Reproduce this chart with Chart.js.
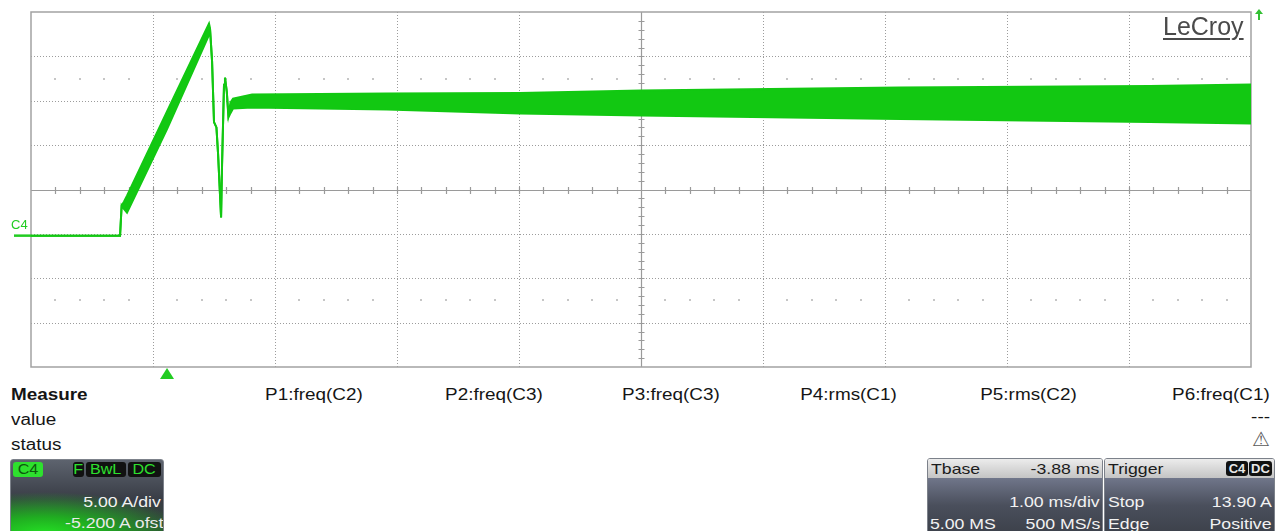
<!DOCTYPE html>
<html lang="en">
<head>
    <meta charset="UTF-8">
    <title>LeCroy C4 capture</title>
    <style>
        body {
            margin: 0;
            background: #fff;
            font-family: "Liberation Sans", Arial, sans-serif;
        }
        #screen {
            position: relative;
            width: 1275px;
            height: 531px;
            overflow: hidden;
            background: #fff;
        }
        #chartContainer {
            position: absolute;
            left: 0;
            top: 0;
            width: 1275px;
            height: 380px;
        }
        .tx {
            position: absolute;
            white-space: nowrap;
            font-size: 16px;
            line-height: 16px;
            color: #151515;
            transform: scaleX(1.18);
            transform-origin: left top;
        }
        .tx.r { transform-origin: right top; }
        .logo {
            position: absolute;
            left: 1163px;
            top: 12px;
            font-size: 25px;
            line-height: 28px;
            color: #4a4a4a;
            text-decoration: underline;
            text-decoration-thickness: 2px;
            text-underline-offset: 3px;
        }
        .panel {
            position: absolute;
            border: 1px solid #7c818a;
            border-radius: 3px;
            overflow: hidden;
        }
        .panel .tx { color: #f2f2f2; font-size: 15px; }
        #c4box {
            left: 10px; top: 459px; width: 152px; height: 80px;
            background:
                radial-gradient(ellipse 140px 42px at 22% 74px, rgba(36,225,36,1) 0%, rgba(30,185,30,0.9) 40%, rgba(24,120,24,0) 100%),
                linear-gradient(#5d636e, #383c45 50%, #2c4a30);
        }
        .badge {
            position: absolute;
            top: 2px;
            height: 15px;
            border-radius: 3px;
            font-size: 14px;
            line-height: 15px;
            text-align: center;
        }
        .badge span { display: inline-block; transform: scaleX(1.15); }
        .head {
            position: absolute;
            left: 0; right: 0; top: 0; height: 19px;
            background: linear-gradient(#ececec, #c4c4c4);
        }
        .panel .head .tx { color: #1c1c1c; }
        .head .badge { font-size: 13px; font-weight: bold; }
        .head .badge span { transform: none; }
        .body {
            position: absolute;
            left: 0; right: 0; top: 19px; bottom: 0;
            background: linear-gradient(#70768a, #4a4f5c 45%, #3a3e47);
        }
        #tbase { left: 927px; top: 458px; width: 174px; height: 80px; }
        #trig { left: 1104px; top: 458px; width: 169px; height: 80px; }
    </style>
    <script src="https://cdn.jsdelivr.net/npm/chart.js"></script>
</head>
<body>
<div id="screen">
    <div id="chartContainer">
        <canvas id="scopeChart"></canvas>
    </div>
    <div class="logo">LeCroy</div>

    <div class="tx" style="left:11px;top:387px;font-weight:bold;">Measure</div>
    <div class="tx" style="left:11px;top:412px;">value</div>
    <div class="tx" style="left:11px;top:437px;">status</div>

    <div class="tx r" style="right:912px;top:387px;">P1:freq(C2)</div>
    <div class="tx r" style="right:732px;top:387px;">P2:freq(C3)</div>
    <div class="tx r" style="right:555px;top:387px;">P3:freq(C3)</div>
    <div class="tx r" style="right:378px;top:387px;">P4:rms(C1)</div>
    <div class="tx r" style="right:198px;top:387px;">P5:rms(C2)</div>
    <div class="tx r" style="right:5px;top:387px;">P6:freq(C1)</div>
    <div class="tx r" style="right:5px;top:409px;">---</div>
    <div class="tx r" style="right:5px;top:429px;color:#5a5a5a;font-family:'DejaVu Sans';font-size:20px;line-height:20px;transform:none;">⚠</div>

    <div class="panel" id="c4box">
        <div class="badge" style="left:2px;width:30px;background:#2ee02e;color:#0d5a0d;"><span>C4</span></div>
        <div class="badge" style="left:62px;width:11px;background:#111;color:#2ee02e;"><span>F</span></div>
        <div class="badge" style="left:75px;width:40px;background:#111;color:#2ee02e;"><span>BwL</span></div>
        <div class="badge" style="left:117px;width:33px;background:#111;color:#2ee02e;"><span>DC</span></div>
        <div class="tx r" style="right:2px;top:34px;">5.00 A/div</div>
        <div class="tx r" style="right:0px;top:55px;color:#eaeaea;">-5.200 A ofst</div>
    </div>

    <div class="panel" id="tbase">
        <div class="head">
            <div class="tx" style="left:3px;top:2px;">Tbase</div>
            <div class="tx r" style="right:3px;top:2px;">-3.88 ms</div>
        </div>
        <div class="body">
            <div class="tx r" style="right:2px;top:16px;">1.00 ms/div</div>
            <div class="tx" style="left:2px;top:38px;">5.00 MS</div>
            <div class="tx r" style="right:2px;top:38px;">500 MS/s</div>
        </div>
    </div>

    <div class="panel" id="trig">
        <div class="head">
            <div class="tx" style="left:3px;top:2px;">Trigger</div>
            <div class="badge" style="left:121px;width:22px;background:#111;color:#e8e8e8;"><span>C4</span></div>
            <div class="badge" style="left:144px;width:23px;background:#111;color:#e8e8e8;"><span>DC</span></div>
        </div>
        <div class="body">
            <div class="tx" style="left:3px;top:16px;">Stop</div>
            <div class="tx r" style="right:2px;top:16px;">13.90 A</div>
            <div class="tx" style="left:3px;top:38px;">Edge</div>
            <div class="tx r" style="right:2px;top:38px;">Positive</div>
        </div>
    </div>
</div>
<script>
    // C4 current trace (time in ms from trigger, current in A)
    // the trace is drawn as its max / min envelope, the ripple band is filled between them
    const timeMs = [-1.115, -0.385, -0.372, -0.352, -0.328, 0.0, 0.344, 0.352, 0.369, 0.385,
                    0.405, 0.418, 0.443, 0.451, 0.467, 0.475, 0.49, 0.503, 0.52, 0.541,
                    0.697, 1.803, 2.893, 3.885, 6.008, 8.057, 8.885];
    const upperA = [0, 0, 3.4, 3.85, 4.5, 14.0, 23.9, 23.4, 19.7, 12.8,
                    12.2, 9.3, 2.05, 8.0, 17.0, 17.8, 16.2, 13.6, 15.0, 15.45,
                    15.9, 16.01, 16.07, 16.35, 16.69, 16.85, 17.02];
    const lowerA = [0, 0, 3.4, 3.0, 2.6, 12.0, 22.6, 23.4, 19.7, 12.8,
                    12.2, 9.3, 2.05, 8.0, 17.0, 17.8, 16.2, 13.3, 13.8, 14.32,
                    14.43, 14.21, 13.76, 13.53, 13.14, 12.8, 12.63];

    // screen divisions: 1.00 ms/div, 5.00 A/div, -5.200 A offset, trigger 3.88 ms left of centre
    const gridTimeMs = [-1.115, -0.115, 0.885, 1.885, 2.885, 3.885, 4.885, 5.885, 6.885, 7.885, 8.885];
    const gridAmps = [-14.8, -9.8, -4.8, 0.2, 5.2, 10.2, 15.2, 20.2, 25.2];
    const centreTime = 3.885;
    const centreAmps = 5.2;
    const triggerTime = 0;
    const groundAmps = 0;

    const traceGreen = 'rgb(18,200,18)';

    const scopeGrid = {
        id: 'scopeGrid',
        beforeDatasetsDraw(chart) {
            const { ctx, chartArea: a, scales: { x, y } } = chart;
            ctx.save();
            // dotted division lines
            ctx.lineWidth = 1;
            ctx.strokeStyle = '#9c9c9c';
            ctx.setLineDash([1, 2]);
            gridTimeMs.slice(1, -1).forEach(v => {
                if (v === centreTime) return;
                const px = Math.round(x.getPixelForValue(v)) + 0.5;
                ctx.beginPath(); ctx.moveTo(px, a.top); ctx.lineTo(px, a.bottom); ctx.stroke();
            });
            gridAmps.slice(1, -1).forEach(v => {
                if (v === centreAmps) return;
                const py = Math.round(y.getPixelForValue(v)) + 0.5;
                ctx.beginPath(); ctx.moveTo(a.left, py); ctx.lineTo(a.right, py); ctx.stroke();
            });
            ctx.setLineDash([]);

            // faint dot rows half way into the 3rd division above and below centre
            ctx.fillStyle = '#c6c6c6';
            [centreAmps + 12.5, centreAmps - 12.5].forEach(v => {
                const py = Math.round(y.getPixelForValue(v));
                for (let k = 1; k < 50; k++) {
                    if (k % 5 === 0) continue;
                    const px = Math.round(a.left + k * a.width / 50);
                    ctx.fillRect(px - 1, py - 1, 2, 2);
                }
            });

            // solid centre cross with minor ticks
            const cx = Math.round(x.getPixelForValue(centreTime)) + 0.5;
            const cy = Math.round(y.getPixelForValue(centreAmps)) + 0.5;
            ctx.strokeStyle = '#9a9a9a';
            ctx.lineWidth = 1.2;
            ctx.beginPath();
            ctx.moveTo(a.left, cy); ctx.lineTo(a.right, cy);
            ctx.moveTo(cx, a.top); ctx.lineTo(cx, a.bottom);
            for (let k = 1; k < 50; k++) {
                const px = Math.round(a.left + k * a.width / 50) + 0.5;
                ctx.moveTo(px, cy - 3.5); ctx.lineTo(px, cy + 3.5);
            }
            for (let k = 1; k < 40; k++) {
                const py = Math.round(a.top + k * a.height / 40) + 0.5;
                ctx.moveTo(cx - 3, py); ctx.lineTo(cx + 3, py);
            }
            ctx.stroke();

            // frame
            ctx.strokeStyle = '#a2a2a2';
            ctx.lineWidth = 1.5;
            ctx.strokeRect(a.left, a.top, a.width, a.height);
            ctx.restore();
        },
        afterDraw(chart) {
            const { ctx, chartArea: a, scales: { x, y } } = chart;
            ctx.save();
            ctx.fillStyle = '#22cc22';
            ctx.strokeStyle = '#22cc22';

            // trigger position marker below the grid
            const tx = x.getPixelForValue(triggerTime);
            ctx.beginPath();
            ctx.moveTo(tx - 7, a.bottom + 12);
            ctx.lineTo(tx + 7, a.bottom + 12);
            ctx.lineTo(tx, a.bottom + 1);
            ctx.closePath();
            ctx.fill();

            // channel ground marker
            const gy = y.getPixelForValue(groundAmps);
            ctx.lineWidth = 2.5;
            ctx.beginPath(); ctx.moveTo(14, gy); ctx.lineTo(a.left, gy); ctx.stroke();
            ctx.font = '13px "Liberation Sans", Arial';
            ctx.fillText('C4', 11, gy - 7);

            // off-screen arrow top right
            ctx.fillStyle = '#33c033';
            ctx.strokeStyle = '#33c033';
            ctx.lineWidth = 2;
            ctx.beginPath(); ctx.moveTo(a.right + 8, a.top + 8); ctx.lineTo(a.right + 8, a.top + 1); ctx.stroke();
            ctx.beginPath();
            ctx.moveTo(a.right + 4, a.top + 2);
            ctx.lineTo(a.right + 12, a.top + 2);
            ctx.lineTo(a.right + 8, a.top - 3);
            ctx.closePath();
            ctx.fill();
            ctx.restore();
        }
    };

    const ctx = document.getElementById('scopeChart').getContext('2d');

    const chart = new Chart(ctx, {
        type: 'line',
        data: {
            datasets: [
                {
                    label: 'C4 max',
                    data: timeMs.map((t, i) => ({ x: t, y: upperA[i] })),
                    borderColor: traceGreen,
                    backgroundColor: traceGreen,
                    borderWidth: 2,
                    pointRadius: 0,
                    tension: 0,
                    fill: '+1'
                },
                {
                    label: 'C4 min',
                    data: timeMs.map((t, i) => ({ x: t, y: lowerA[i] })),
                    borderColor: traceGreen,
                    backgroundColor: traceGreen,
                    borderWidth: 2,
                    pointRadius: 0,
                    tension: 0,
                    fill: false
                }
            ]
        },
        options: {
            responsive: true,
            maintainAspectRatio: false,
            animation: false,
            layout: {
                padding: { left: 31, top: 12, right: 24, bottom: 13 }
            },
            plugins: {
                legend: { display: false },
                tooltip: { enabled: false }
            },
            scales: {
                x: {
                    type: 'linear',
                    min: gridTimeMs[0],
                    max: gridTimeMs[gridTimeMs.length - 1],
                    display: false
                },
                y: {
                    min: gridAmps[0],
                    max: gridAmps[gridAmps.length - 1],
                    display: false
                }
            }
        },
        plugins: [scopeGrid]
    });
</script>
</body>
</html>
